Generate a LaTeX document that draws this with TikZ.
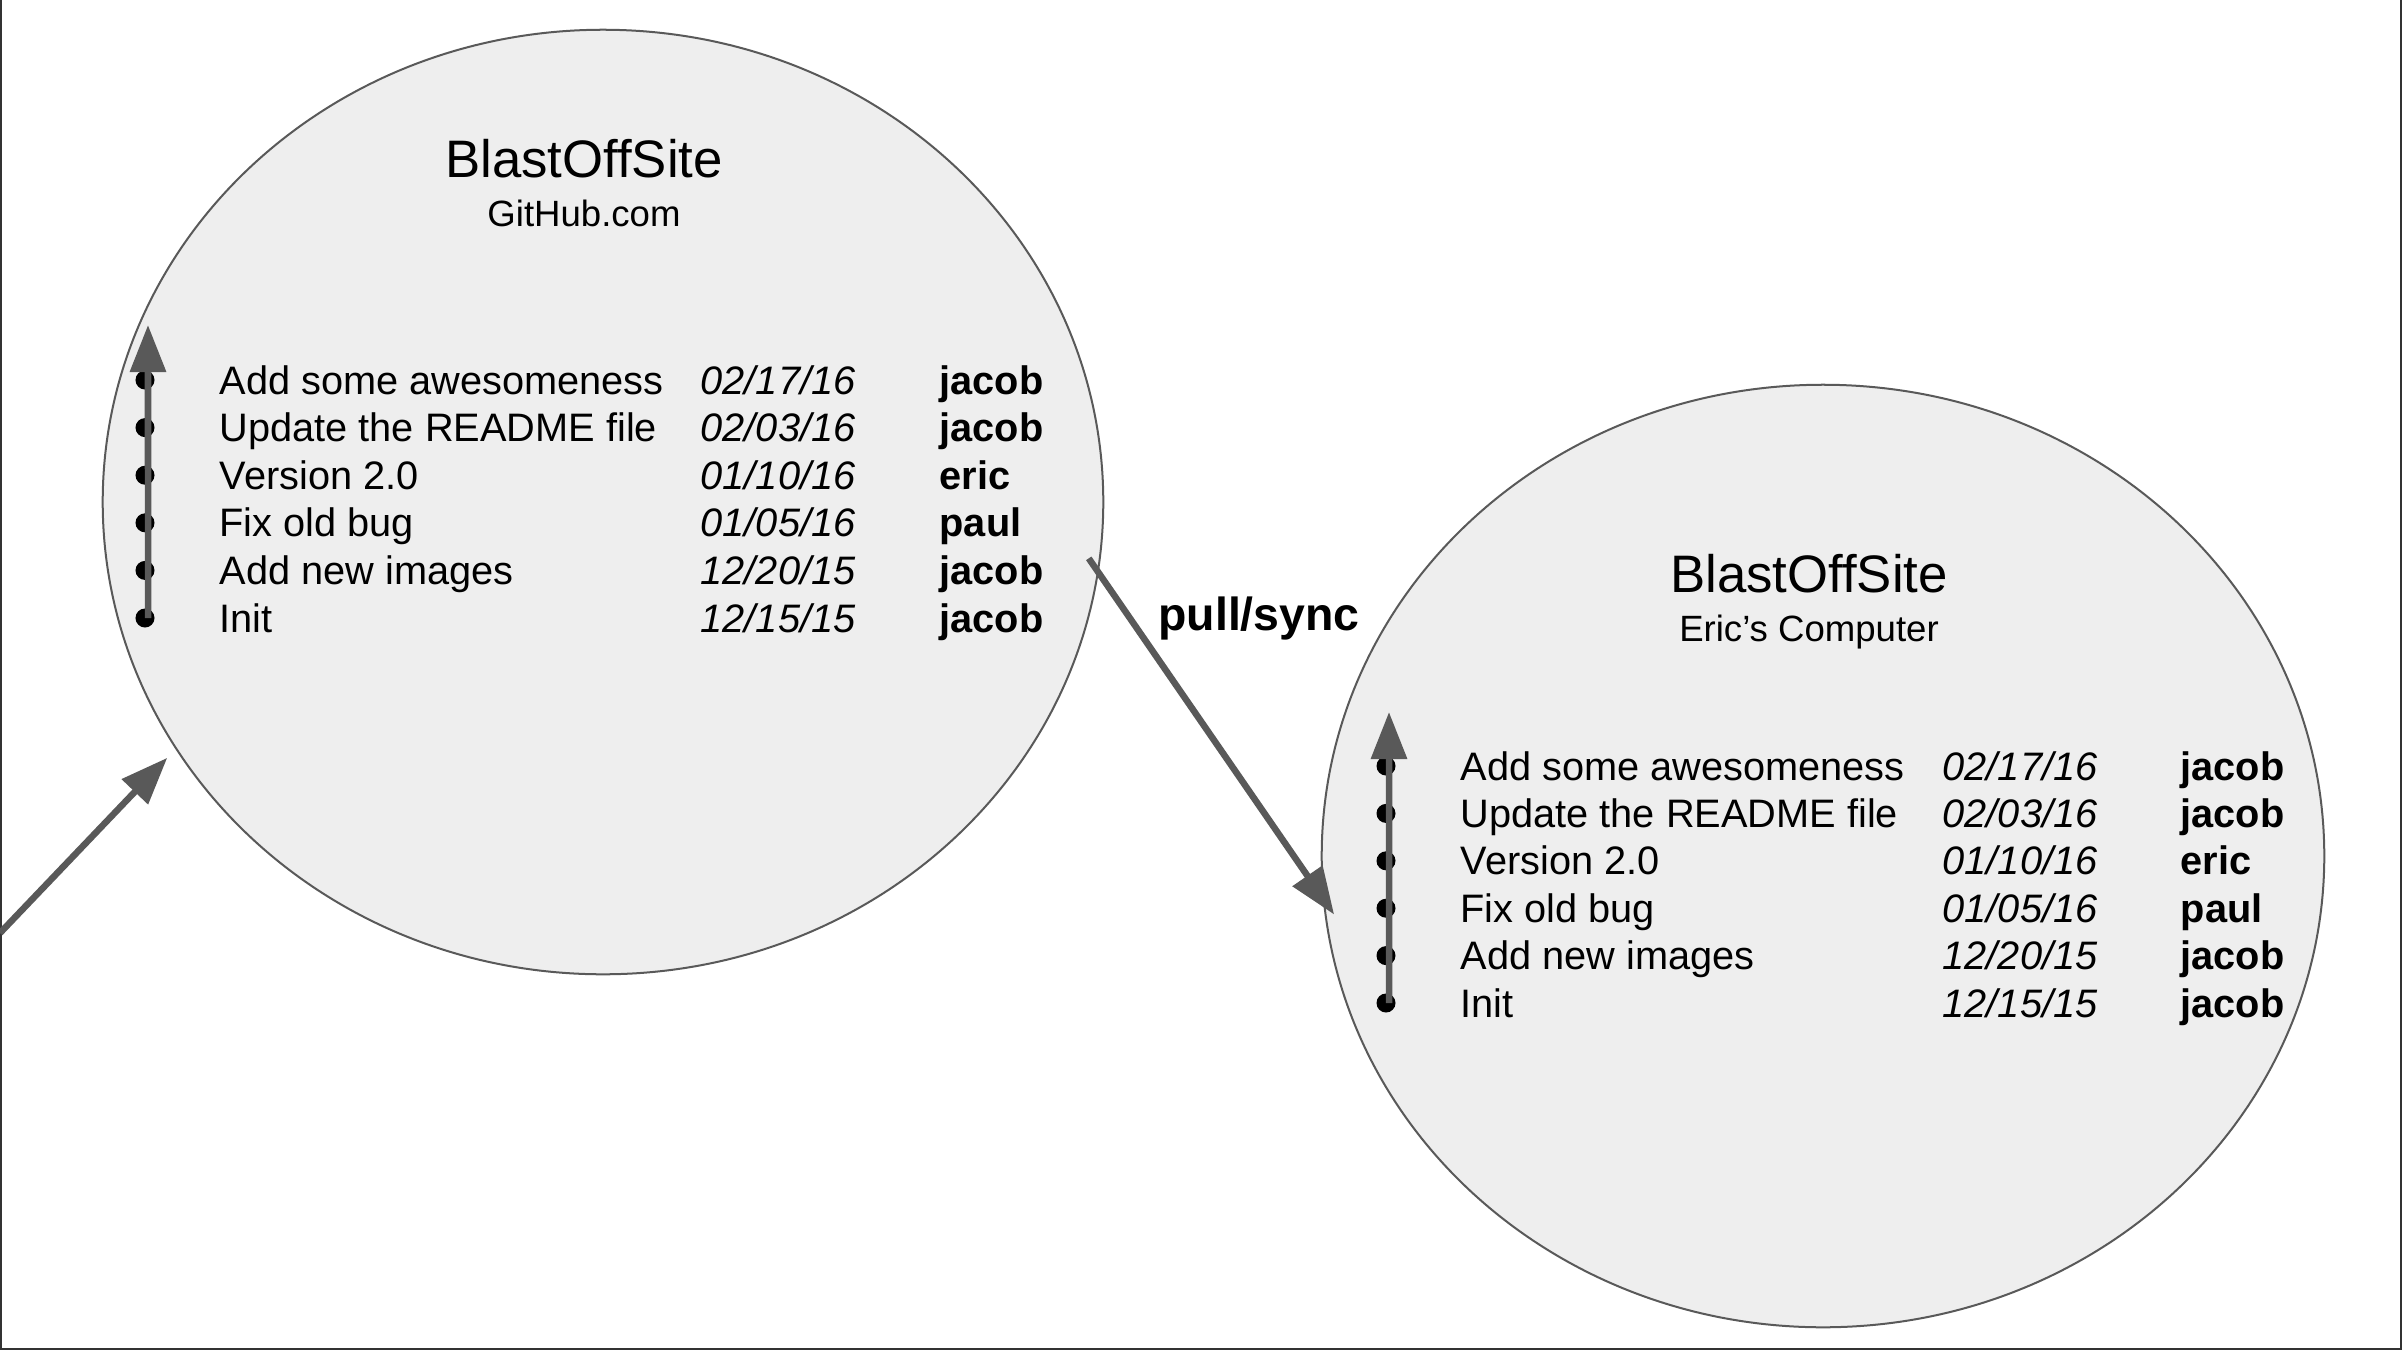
\documentclass[tikz,border=0pt]{standalone}
\usepackage{fontspec}
\setmainfont{Liberation Sans}
\usetikzlibrary{arrows.meta,shapes.geometric}

\definecolor{repofill}{HTML}{EEEEEE}
\definecolor{repoline}{HTML}{595959}
\definecolor{arrowgray}{HTML}{595959}
\definecolor{framegray}{HTML}{333333}

\begin{document}
\begin{tikzpicture}[x=0.01cm,y=-0.01cm,
		repo/.style={ellipse, draw=repoline, fill=repofill, line width=0.02cm, inner sep=0pt, outer sep=0pt},
		flow/.style={draw=arrowgray, line width=0.065cm, -{Triangle[length=0.47cm,width=0.35cm]}},
		commit/.style={circle, fill=black, inner sep=0pt, minimum size=0.19cm},
		msg/.style={anchor=base west, inner sep=0pt, font=\fontsize{11.3}{13}\selectfont},
		day/.style={msg, font=\fontsize{11.3}{13}\selectfont\itshape},
		who/.style={msg, font=\fontsize{11.3}{13}\selectfont\bfseries},
		reponame/.style={anchor=base, inner sep=0pt, font=\fontsize{15}{18}\selectfont},
		repoplace/.style={anchor=base, inner sep=0pt, font=\fontsize{10.4}{12}\selectfont},
		pulltag/.style={anchor=base, inner sep=0pt, font=\fontsize{13.2}{16}\selectfont\bfseries}]
		\useasboundingbox (0,0) rectangle (2402,1350);
		
		\draw[framegray, line width=0.02cm] (1,0) -- (1,1349) -- (2401,1349) -- (2401,0);
		
		\node[repo, minimum width=10cm, minimum height=9.44cm] (github) at (603,502) {};
		\node[repo, minimum width=10.02cm, minimum height=9.42cm] (local) at (1823,856) {};
		
		\node[reponame] (ghname) at (584,177) {BlastOffSite};
		\node[repoplace] (ghplace) at (584,226) {GitHub.com};
		\node[reponame] (pcname) at (1809,592) {BlastOffSite};
		\node[repoplace] (pcplace) at (1809,641) {Eric’s Computer};
		
		\foreach \what/\when/\who [count=\i] in {
			{Add some awesomeness}/{02/17/16}/{jacob},
			{Update the README file}/{02/03/16}/{jacob},
			{Version 2.0}/{01/10/16}/{eric},
			{Fix old bug}/{01/05/16}/{paul},
			{Add new images}/{12/20/15}/{jacob},
			{Init}/{12/15/15}/{jacob}}
		{
			\node[commit] (gh\i) at (145,{380+47.6*(\i-1)}) {};
			\node[msg] (ghmsg\i) at (219,{394+47.6*(\i-1)}) {\what};
			\node[day] (ghday\i) at (700,{394+47.6*(\i-1)}) {\when};
			\node[who] (ghwho\i) at (939,{394+47.6*(\i-1)}) {\who};
			
			\node[commit] (pc\i) at (1386,{766+47.4*(\i-1)}) {};
			\node[msg] (pcmsg\i) at (1460,{780+47.4*(\i-1)}) {\what};
			\node[day] (pcday\i) at (1942,{780+47.4*(\i-1)}) {\when};
			\node[who] (pcwho\i) at (2180,{780+47.4*(\i-1)}) {\who};
		}
		
		\coordinate (ghtip) at (148,325);
		\coordinate (pctip) at (1389,712);
		\draw[flow] ([xshift=0.03cm]gh6.center) -- (ghtip);
		\draw[flow] ([xshift=0.03cm]pc6.center) -- (pctip);
		
		\draw[flow, shorten <=-0.16cm, shorten >=-0.18cm] (github.-8.5) -- (local.185.6);
		\node[pulltag] (pull) at (1259,630) {pull/sync};
		
		\coordinate (push) at (0,933);
		\draw[flow, shorten >=0.13cm] (push) -- (github.210.2);
	\end{tikzpicture}
\end{document}
